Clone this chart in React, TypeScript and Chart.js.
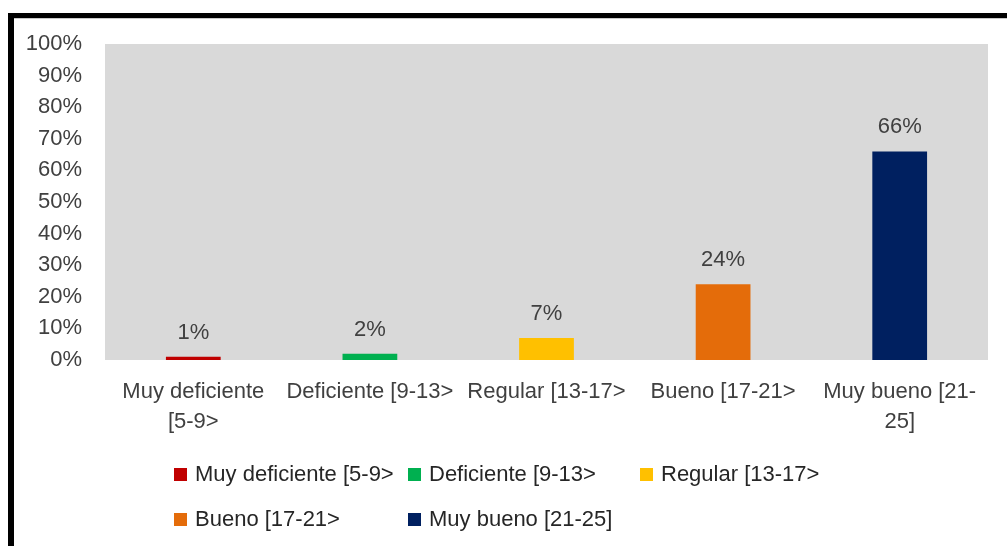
import React, { useEffect, useRef } from "react";
import { Chart, registerables } from "chart.js";

Chart.register(...registerables);

const categories: (string | string[])[] = [
  ["Muy deficiente", "[5-9>"],
  "Deficiente [9-13>",
  "Regular [13-17>",
  "Bueno [17-21>",
  ["Muy bueno [21-", "25]"],
];
const legendLabels = [
  "Muy deficiente [5-9>",
  "Deficiente [9-13>",
  "Regular [13-17>",
  "Bueno [17-21>",
  "Muy bueno [21-25]",
];
const values = [1, 2, 7, 24, 66];
const colors = ["#C00000", "#00B050", "#FFC000", "#E46C0A", "#002060"];
const yTicks = [0, 10, 20, 30, 40, 50, 60, 70, 80, 90, 100];

const FONT = "'Liberation Sans', Arial, sans-serif";
const FSIZE = 22;
const TEXT = "#404040";

const framePlugin = {
  id: "frame",
  beforeDraw(chart: any) {
    const { ctx, chartArea } = chart;
    ctx.save();
    ctx.fillStyle = "#ffffff";
    ctx.fillRect(0, 0, chart.width, chart.height);
    ctx.fillStyle = "#d9d9d9";
    ctx.fillRect(chartArea.left, chartArea.top, chartArea.right - chartArea.left, chartArea.bottom - chartArea.top);
    ctx.fillStyle = "#000000";
    ctx.fillRect(8, 13, chart.width - 8, 5);
    ctx.fillRect(8, 13, 6, chart.height - 13);
    ctx.fillStyle = "#c8c8c8";
    ctx.fillRect(14, 18, chart.width - 14, 1);
    ctx.restore();
  },
  afterDatasetsDraw(chart: any) {
    const { ctx } = chart;
    const meta = chart.getDatasetMeta(0);
    ctx.save();
    ctx.font = `${FSIZE}px ${FONT}`;
    ctx.fillStyle = TEXT;
    ctx.textAlign = "center";
    ctx.textBaseline = "alphabetic";
    meta.data.forEach((bar: any, i: number) => {
      ctx.fillText(`${values[i]}%`, bar.x, bar.y - 18);
    });
    // legend
    const cols = [174, 408, 640];
    const rows = [468, 513];
    ctx.textAlign = "left";
    ctx.textBaseline = "middle";
    legendLabels.forEach((lab, i) => {
      const x = cols[i % 3];
      const y = rows[Math.floor(i / 3)];
      ctx.fillStyle = colors[i];
      ctx.fillRect(x, y, 13, 13);
      ctx.fillStyle = "#262626";
      ctx.fillText(lab, x + 21, y + 7);
    });
    ctx.restore();
  },
};

export default function App() {
  const ref = useRef<HTMLCanvasElement>(null);
  useEffect(() => {
    const chart = new Chart(ref.current!, {
      type: "bar",
      data: {
        labels: categories,
        datasets: [
          {
            data: values,
            backgroundColor: colors,
            borderWidth: 0,
            barPercentage: 0.31,
            categoryPercentage: 1,
          },
        ],
      },
      options: {
        animation: false,
        responsive: false,
        maintainAspectRatio: false,
        layout: { padding: { left: 0, top: 44, right: 19, bottom: 0 } },
        plugins: { legend: { display: false }, tooltip: { enabled: false } },
        scales: {
          x: {
            grid: { display: false, drawTicks: false },
            border: { display: false },
            ticks: {
              color: TEXT,
              font: { family: FONT, size: FSIZE, lineHeight: "30px" as any },
              padding: 17,
              maxRotation: 0,
              autoSkip: false,
            },
            afterFit: (s: any) => {
              s.height = 186;
            },
          },
          y: {
            min: 0,
            max: 100,
            grid: { display: false, drawTicks: false },
            border: { display: false },
            afterBuildTicks: (s: any) => {
              s.ticks = yTicks.map((v) => ({ value: v }));
            },
            ticks: {
              color: TEXT,
              font: { family: FONT, size: FSIZE },
              padding: 23,
              callback: (v: any) => `${v}%`,
            },
            afterFit: (s: any) => {
              s.width = 105;
            },
          },
        },
      },
      plugins: [framePlugin],
    });
    return () => chart.destroy();
  }, []);
  return (
    <div style={{ position: "absolute", left: 0, top: 0, width: 1007, height: 546 }}>
      <canvas ref={ref} width={1007} height={546} style={{ display: "block" }} />
    </div>
  );
}
